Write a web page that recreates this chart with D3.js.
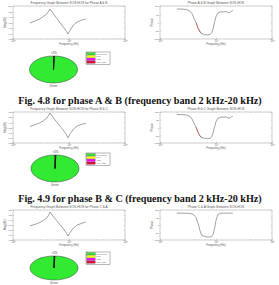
<!DOCTYPE html>
<html>
<head>
<meta charset="utf-8">
<script src="https://cdn.jsdelivr.net/npm/d3@7"></script>
<style>
  body { margin: 0; background: #fff; }
  svg { display: block; }
</style>
</head>
<body>
<div id="fig"></div>
<script>
// magnitude response (dB)
const magFreq = [2000, 2500, 3000, 3500, 4000, 4300, 4600, 5000, 6000, 7000, 8000, 9000, 9600, 10500, 12000, 14000, 17000, 20000];
const magAB = [-51, -47, -43.6, -39, -34.5, -30, -25.5, -31, -42, -51, -59, -66, -71, -63.6, -54.5, -49, -45.5, -43.6];
const magBC = [-48, -44.5, -41, -37, -32, -27, -22, -28, -39, -48, -56, -64, -70, -62, -53, -47, -43.5, -42];
const magCA = [-52, -48.5, -45, -40.5, -36, -31, -24, -30, -41, -50, -58, -66, -72, -65, -56, -50, -46.5, -44];

// phase curves
const phaseFreq = [2000, 2500, 3000, 3400, 3700, 4000, 4400, 4800, 5200, 5600, 6300, 7200, 7800, 8400, 8900, 9400, 10000, 10800, 12000, 13500, 15000, 16000, 17000, 18000, 19000, 20000];
const phaseAB = [82, 81, 78, 70, 55, 30, 0, -35, -58, -68, -74, -75, -73, -62, -35, 0, 35, 58, 64, 65, 66, 63, 58, 62, 70, 72];
const phaseBC = [84, 83, 80, 72, 57, 32, 2, -33, -56, -66, -70, -71, -70, -60, -33, 2, 37, 60, 66, 67, 67, 64, 60, 63, 70, 72];
const phaseCA = [79, 79, 78, 77, 74, 68, 50, 10, -40, -70, -78, -80, -80, -76, -62, -25, 30, 70, 78, 79, 79, 79, 79, 79, 79, 79];

// pie
const pieLabels = ['Green Line', 'Low', 'High', 'Very High'];
const pieValues = [99.4, 0.2, 0.2, 0.2];
const pieColors = ['#33ea33', '#ffff00', '#ff00ff', '#e0103a'];

const xTicks = [1e3, 1e4, 1e5];
const magTicks = [-80, -70, -60, -50, -40, -30, -20];
const phaseTicks = [-100, -50, 0, 50, 100];

const captions = [
  'Fig. 4.8 for phase A & B (frequency band 2 kHz-20 kHz)',
  'Fig. 4.9 for phase B & C (frequency band 2 kHz-20 kHz)'
];

const panels = [
  { mag: magAB, phase: phaseAB, name: 'A & B', red: true,
    y0: 6, y1: 39, pie: { cx: 53.5, cy: 69.5, ry: 13.5 }, legY: 52, capY: 104 },
  { mag: magBC, phase: phaseBC, name: 'B & C', red: true,
    y0: 112, y1: 143, pie: { cx: 55, cy: 168.5, ry: 13.5 }, legY: 153, capY: 202 },
  { mag: magCA, phase: phaseCA, name: 'C & A', red: false,
    y0: 210, y1: 240, pie: { cx: 54, cy: 268, ry: 12 }, legY: 252, capY: null }
];

const width = 279, height = 285;
const svg = d3.select('#fig').append('svg')
  .attr('width', width)
  .attr('height', height)
  .style('font-family', 'Liberation Sans, Arial, sans-serif');

const gray = '#555';

function plot(g, x0, x1, y0, y1, freq, vals, yDomain, yTicks, title, ylabel, redRange) {
  const x = d3.scaleLog().domain([1e3, 1e5]).range([x0, x1]);
  const y = d3.scaleLinear().domain(yDomain).range([y1, y0]);

  g.append('rect')
    .attr('x', x0).attr('y', y0)
    .attr('width', x1 - x0).attr('height', y1 - y0)
    .attr('fill', '#fff').attr('stroke', '#888').attr('stroke-width', 0.4);

  const minor = [];
  for (const dec of [1e3, 1e4]) for (let k = 2; k <= 9; k++) minor.push(dec * k);

  // bottom axis
  const bx = g.append('g').attr('transform', `translate(0,${y1})`)
    .call(d3.axisBottom(x).tickValues(xTicks).tickSizeInner(-1.4).tickSizeOuter(0).tickPadding(1.2));
  bx.select('.domain').remove();
  bx.selectAll('line').attr('stroke', '#888').attr('stroke-width', 0.3);
  bx.selectAll('text')
    .attr('font-size', 2.6).attr('fill', gray)
    .each(function(d) {
      const t = d3.select(this).text('10');
      t.append('tspan').attr('dy', -1).attr('font-size', 1.8).text(Math.round(Math.log10(d)));
    });
  g.append('g').attr('transform', `translate(0,${y1})`)
    .call(d3.axisBottom(x).tickValues(minor).tickSizeInner(-0.8).tickSizeOuter(0).tickFormat(''))
    .call(s => { s.select('.domain').remove(); s.selectAll('line').attr('stroke', '#999').attr('stroke-width', 0.25); });
  g.append('g').attr('transform', `translate(0,${y0})`)
    .call(d3.axisTop(x).tickValues(xTicks.concat(minor)).tickSizeInner(-0.8).tickSizeOuter(0).tickFormat(''))
    .call(s => { s.select('.domain').remove(); s.selectAll('line').attr('stroke', '#999').attr('stroke-width', 0.25); });

  // left axis
  const ly = g.append('g').attr('transform', `translate(${x0},0)`)
    .call(d3.axisLeft(y).tickValues(yTicks).tickSizeInner(-1.2).tickSizeOuter(0).tickPadding(1));
  ly.select('.domain').remove();
  ly.selectAll('line').attr('stroke', '#888').attr('stroke-width', 0.3);
  ly.selectAll('text').attr('font-size', 2.4).attr('fill', gray);
  g.append('g').attr('transform', `translate(${x1},0)`)
    .call(d3.axisRight(y).tickValues(yTicks).tickSizeInner(-1.2).tickSizeOuter(0).tickFormat(''))
    .call(s => { s.select('.domain').remove(); s.selectAll('line').attr('stroke', '#888').attr('stroke-width', 0.3); });

  g.append('text')
    .attr('x', (x0 + x1) / 2).attr('y', y0 - 1.6)
    .attr('text-anchor', 'middle').attr('font-size', 3.2).attr('fill', gray)
    .text(title);
  g.append('text')
    .attr('x', (x0 + x1) / 2).attr('y', y1 + 6.4)
    .attr('text-anchor', 'middle').attr('font-size', 2.8).attr('fill', gray)
    .text('Frequency (Hz)');
  g.append('text')
    .attr('transform', `translate(${x0 - 7.5},${(y0 + y1) / 2}) rotate(-90)`)
    .attr('text-anchor', 'middle').attr('font-size', 2.8).attr('fill', gray)
    .text(ylabel);

  const pts = freq.map((f, i) => [f, vals[i]]);
  const line = d3.line().x(d => x(d[0])).y(d => y(d[1]));
  g.append('path')
    .attr('d', line(pts))
    .attr('fill', 'none').attr('stroke', '#555').attr('stroke-width', 0.55);
  if (redRange) {
    g.append('path')
      .attr('d', line(pts.filter(d => d[0] >= redRange[0] && d[0] <= redRange[1])))
      .attr('fill', 'none').attr('stroke', '#c0392b').attr('stroke-width', 0.55);
  }
}

function pieChart(g, p, legY) {
  const rx = 24;
  const total = d3.sum(pieValues);
  const a0 = -pieValues[0] / total * 2 * Math.PI;
  const arcs = d3.pie().sort(null).startAngle(a0).endAngle(a0 + 2 * Math.PI)(pieValues);
  const arc = d3.arc().innerRadius(0).outerRadius(rx);

  const pg = g.append('g').attr('transform', `translate(${p.cx},${p.cy}) scale(1,${p.ry / rx})`);
  pg.selectAll('path').data(arcs).join('path')
    .attr('d', arc)
    .attr('fill', (d, i) => pieColors[i])
    .attr('stroke', '#111').attr('stroke-width', 0.4)
    .attr('vector-effect', 'non-scaling-stroke');

  g.append('text')
    .attr('x', p.cx).attr('y', p.cy + p.ry + 3.6)
    .attr('text-anchor', 'middle').attr('font-size', 2.8).attr('fill', gray)
    .text('Green');
  g.append('text')
    .attr('x', p.cx + 0.5).attr('y', p.cy - p.ry - 1.8)
    .attr('text-anchor', 'middle').attr('font-size', 2.8).attr('fill', '#333')
    .text('<1%');

  // legend
  const lx = 86, lw = 24, rowH = 2.8;
  const lg = g.append('g').attr('transform', `translate(${lx},${legY})`);
  lg.append('rect')
    .attr('width', lw).attr('height', rowH * pieLabels.length + 1.2)
    .attr('fill', '#fff').attr('stroke', '#333').attr('stroke-width', 0.35);
  const rows = lg.selectAll('g.row').data(pieLabels).join('g')
    .attr('class', 'row')
    .attr('transform', (d, i) => `translate(0.8,${0.6 + i * rowH})`);
  rows.append('rect')
    .attr('width', 8.5).attr('height', rowH - 0.5)
    .attr('fill', (d, i) => pieColors[i])
    .attr('stroke', '#222').attr('stroke-width', 0.2);
  rows.append('text')
    .attr('x', 9.5).attr('y', rowH - 0.8)
    .attr('font-size', 2.2).attr('fill', gray)
    .text(d => d);
}

panels.forEach(p => {
  const g = svg.append('g');
  plot(g, 13, 125, p.y0, p.y1, magFreq, p.mag, [-80, -20], magTicks,
    `Frequency Graph Between SOS-HOS for Phase ${p.name}`, 'Mag(dB)', null);
  plot(g, 160, 272, p.y0, p.y1, phaseFreq, p.phase, [-100, 100], phaseTicks,
    `Phase ${p.name} Graph Between SOS-HOS`, 'Phase', p.red ? [4400, 5600] : null);
  pieChart(g, p.pie, p.legY);
});

// captions: pick a font size so the line spans ~244px
captions.forEach((c, i) => {
  const t = svg.append('text')
    .attr('x', 140).attr('y', panels[i].capY)
    .attr('text-anchor', 'middle')
    .attr('font-family', 'Liberation Serif, Times New Roman, serif')
    .attr('font-weight', 'bold')
    .attr('font-size', 11)
    .attr('fill', '#111')
    .text(c);
  const w = t.node().getComputedTextLength();
  t.attr('font-size', (11 * 244 / w).toFixed(2));
});
</script>
</body>
</html>
